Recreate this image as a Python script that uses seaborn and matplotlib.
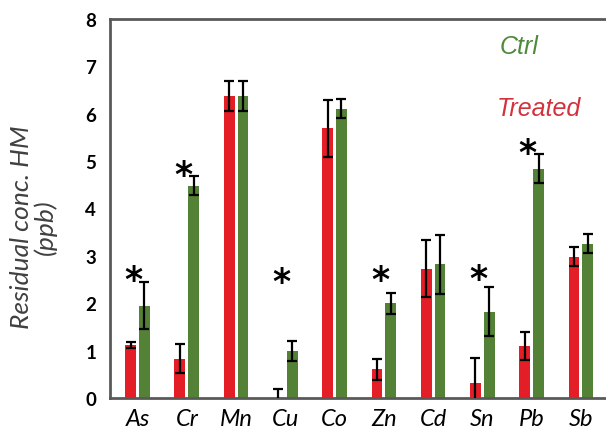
import matplotlib
matplotlib.use("Agg")
import matplotlib.pyplot as plt
import seaborn as sns
import pandas as pd
import numpy as np

elements = ["As", "Cr", "Mn", "Cu", "Co", "Zn", "Cd", "Sn", "Pb", "Sb"]
treated = [1.12, 0.83, 6.38, 0.0, 5.69, 0.61, 2.73, 0.32, 1.10, 2.98]
treated_err = [0.07, 0.30, 0.32, 0.18, 0.60, 0.22, 0.60, 0.52, 0.30, 0.20]
ctrl = [1.95, 4.48, 6.38, 1.00, 6.11, 2.00, 2.82, 1.82, 4.84, 3.26]
ctrl_err = [0.50, 0.20, 0.32, 0.21, 0.20, 0.22, 0.62, 0.52, 0.30, 0.20]
star_elements = ["As", "Cr", "Cu", "Zn", "Sn", "Pb"]
star_heights = [2.72, 4.95, 2.68, 2.72, 2.75, 5.40]
groups = ["Treated", "Ctrl"]
y_ticks = [0, 1, 2, 3, 4, 5, 6, 7, 8]

RED = "#E41E26"
GREEN = "#538135"

sns.set_theme(style="white")
plt.rcParams["font.family"] = ["Lato", "DejaVu Sans"]

df = pd.DataFrame({
    "element": elements * 2,
    "group": ["Treated"] * len(elements) + ["Ctrl"] * len(elements),
    "value": treated + ctrl,
})

fig = plt.figure(figsize=(6.06, 4.39), dpi=100)
ax = fig.add_axes([110 / 606, 40 / 439, 1 - 110 / 606, 379 / 439])

sns.barplot(data=df, x="element", y="value", hue="group", order=elements,
            hue_order=groups, palette=[RED, GREEN], width=0.56, gap=0.21,
            errorbar=None, legend=False, ax=ax, saturation=1, linewidth=0)

errs = [treated_err, ctrl_err]
vals = [treated, ctrl]
bar_containers = list(ax.containers)
for ci, cont in enumerate(bar_containers):
    xs = [b.get_x() + b.get_width() / 2 for b in cont]
    ax.errorbar(xs, vals[ci], yerr=errs[ci], fmt="none", ecolor="black",
                elinewidth=1.6, capsize=3.5, capthick=1.6, zorder=5)

for el, h in zip(star_elements, star_heights):
    xi = elements.index(el) - 0.08
    ax.text(xi, h - 0.45, "*", ha="center", va="baseline", fontsize=25,
            color="black", family="DejaVu Sans", fontweight="bold")

ax.text(0.825, 0.929, "Ctrl", transform=ax.transAxes, color="#4E8A3A",
        fontsize=18, style="italic", ha="center", va="center",
        family="Liberation Sans")
ax.text(0.865, 0.766, "Treated", transform=ax.transAxes, color="#D2323C",
        fontsize=18, style="italic", ha="center", va="center",
        family="Liberation Sans")

ax.set_ylim(0, 8)
ax.set_xlim(-0.56, 9.51)
ax.set_yticks(y_ticks)
ax.set_yticklabels([str(t) for t in y_ticks], fontsize=13.5, fontweight="bold",
                   color="black")
for lab in ax.get_xticklabels():
    lab.set_fontsize(17)
    lab.set_fontstyle("italic")
    lab.set_color("black")
ax.tick_params(axis="both", length=0)
ax.tick_params(axis="y", pad=10)
ax.tick_params(axis="x", pad=7)
ax.set_xlabel("")
ax.set_ylabel("Residual conc. HM\n(ppb)", fontsize=19, style="italic",
              color="#404040", linespacing=1.0)
ax.yaxis.set_label_coords(-0.108, 0.454)

for side in ["left", "top", "bottom"]:
    ax.spines[side].set_visible(True)
    ax.spines[side].set_color("#595959")
    ax.spines[side].set_linewidth(2.0)
ax.spines["right"].set_visible(False)

fig.savefig("out.png", dpi=100)
